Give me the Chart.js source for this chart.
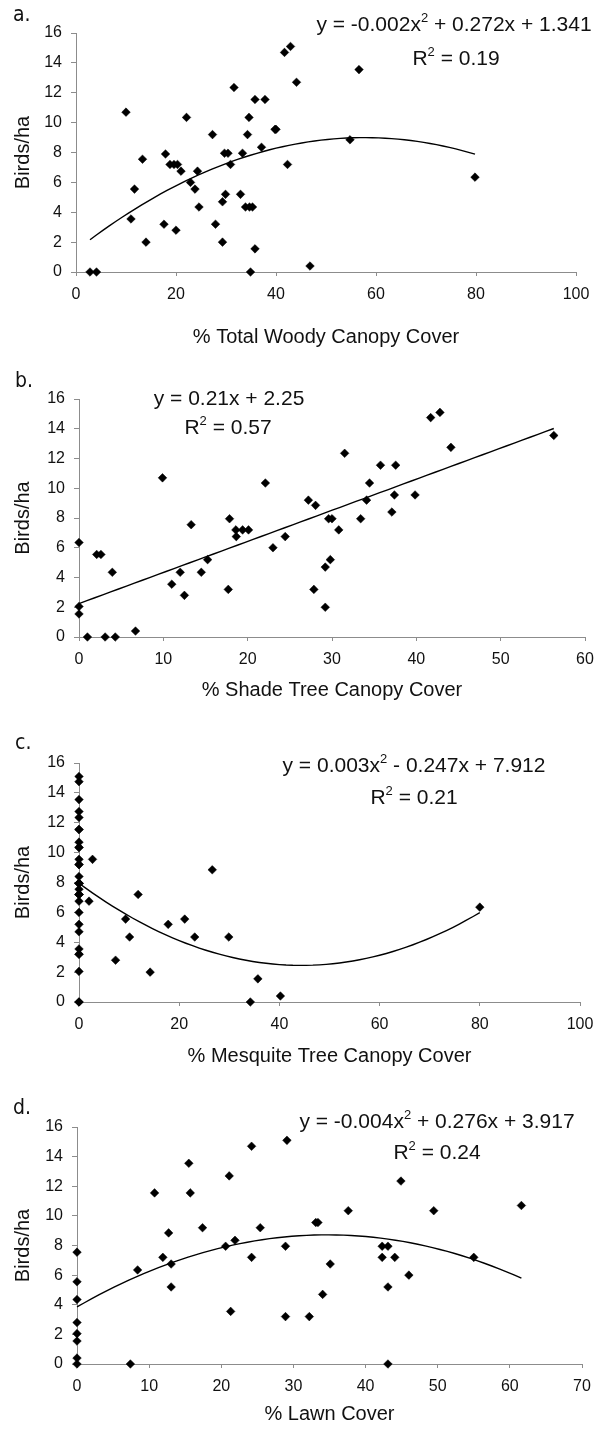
<!DOCTYPE html>
<html>
<head>
<meta charset="utf-8">
<script src="https://cdn.jsdelivr.net/npm/chart.js@4.4.1/dist/chart.umd.min.js"></script>
<style>
  body { margin: 0; background: #fff; width: 605px; height: 1434px; position: relative; overflow: hidden;
         font-family: 'Liberation Sans', Arial, sans-serif; }
  canvas { position: absolute; left: 0; }
  .lbl { position: absolute; font-family: 'Liberation Sans Narrow', 'DejaVu Sans Condensed', sans-serif;
         font-size: 21px; line-height: 21px; color: #111; }
  .eq { position: absolute; font-size: 21px; line-height: 21px; white-space: nowrap; color: #111;
        transform: translate(-50%, -50%); }
  .eq sup { font-size: 13px; vertical-align: 0; position: relative; top: -9px; }
</style>
</head>
<body>
<script>
// birds/ha per site against % cover, one pair of arrays per panel
const woodyX = [2.8, 4.1, 10, 11, 11.7, 13.3, 14, 17.6, 17.9, 18.8, 19.6, 20.3, 20, 21, 22.1, 22.9, 23.8, 24.3, 24.6,
  27.3, 27.9, 29.3, 29.3, 29.9, 29.7, 30.4, 30.9, 31.6, 32.9, 33.3, 34.3, 34.6, 33.9, 34.7, 35.3, 34.9, 35.8, 37.8,
  35.8, 37.1, 39.8, 40.0, 41.7, 42.9, 42.3, 44.1, 56.6, 54.8, 46.8, 79.8];
const woodyY = [0, 0, 10.7, 3.55, 5.55, 7.55, 2, 3.2, 7.9, 7.2, 7.2, 7.2, 2.8, 6.75, 10.35, 6, 5.55, 6.75, 4.35,
  9.2, 3.2, 4.7, 2, 5.2, 7.95, 7.95, 7.2, 12.35, 5.2, 7.95, 9.2, 10.35, 4.35, 4.35, 4.35, 0, 11.55, 11.55,
  1.55, 8.35, 9.55, 9.55, 14.7, 15.1, 7.2, 12.7, 13.55, 8.85, 0.4, 6.35];

const shadeX = [0, 0, 0, 1, 2.1, 2.6, 3.1, 3.95, 4.3, 6.7, 9.9, 11, 12, 12.5, 13.3, 14.5, 15.25, 17.7, 17.85, 18.65,
  18.6, 19.4, 20.1, 22.1, 23, 24.45, 27.2, 28.05, 27.85, 29.2, 29.2, 29.8, 29.6, 30, 30.8, 31.5, 33.4, 34.1, 34.45,
  35.75, 37.55, 37.1, 37.4, 39.85, 41.7, 42.8, 44.1, 56.3];
const shadeY = [6.35, 2.05, 1.55, 0, 5.55, 5.55, 0, 4.35, 0, 0.4, 10.7, 3.55, 4.35, 2.8, 7.55, 4.35, 5.2, 3.2, 7.95, 6.75,
  7.2, 7.2, 7.2, 10.35, 6, 6.75, 9.2, 8.85, 3.2, 4.7, 2, 5.2, 7.95, 7.95, 7.2, 12.35, 7.95, 9.2, 10.35,
  11.55, 11.55, 8.4, 9.55, 9.55, 14.75, 15.1, 12.75, 13.55];

const mesquiteX = [0, 0, 0, 0, 0, 0, 0, 0, 0, 0, 0, 0, 0, 0, 0, 0, 0, 0, 0, 0, 0, 0, 0, 0, 0, 0, 0, 0, 0, 0, 0, 0,
  2.7, 2.0, 7.3, 9.3, 10.1, 11.8, 14.2, 17.8, 21.1, 23.1, 26.6, 29.9, 35.7, 34.2, 40.2, 80];
const mesquiteY = [15.1, 14.75, 13.55, 12.75, 12.35, 11.55, 11.55, 10.7, 10.35, 10.35, 9.55, 9.2, 9.2, 8.4, 7.95, 7.95,
  7.95, 7.95, 7.55, 7.2, 7.2, 7.2, 6.75, 6, 5.2, 4.7, 3.55, 3.2, 3.2, 2.05, 0, 0,
  9.55, 6.75, 2.8, 5.55, 4.35, 7.2, 2, 5.2, 5.55, 4.35, 8.85, 4.35, 1.55, 0, 0.4, 6.35];

const lawnX = [0, 0, 0, 0, 0, 0, 0, 0, 7.4, 8.4, 10.75, 11.9, 12.7, 13.05, 13.05, 15.5, 15.7, 17.4, 20.6, 21.1, 21.3,
  21.9, 24.2, 24.2, 25.4, 29.1, 28.9, 28.9, 32.2, 33.1, 33.4, 34.05, 35.1, 37.6, 42.3, 43.1, 42.3, 44.05, 43.1, 43.1,
  44.9, 46, 49.45, 55, 61.6];
const lawnY = [7.55, 5.55, 4.35, 2.8, 2.05, 1.55, 0.4, 0, 0, 6.35, 11.55, 7.2, 8.85, 6.75, 5.2, 13.55, 11.55, 9.2, 7.95, 12.7, 3.55,
  8.35, 14.7, 7.2, 9.2, 15.1, 7.95, 3.2, 3.2, 9.55, 9.55, 4.7, 6.75, 10.35, 7.95, 7.95, 7.2, 7.2, 5.2, 0,
  12.35, 6, 10.35, 7.2, 10.7];

const seriesX = [woodyX, shadeX, mesquiteX, lawnX];
const seriesY = [woodyY, shadeY, mesquiteY, lawnY];

const panelLetters = ['a.', 'b.', 'c.', 'd.'];
const xTitles = ['% Total Woody Canopy Cover', '% Shade Tree Canopy Cover', '% Mesquite Tree Canopy Cover', '% Lawn Cover'];
const yTitle = 'Birds/ha';
const xMax = [100, 60, 100, 70];
const xStep = [20, 10, 20, 10];
const yMax = 16, yStep = 2;
const fitDegree = [2, 1, 2, 2];
const equations = ['y = -0.002x<sup>2</sup> + 0.272x + 1.341', 'y = 0.21x + 2.25',
  'y = 0.003x<sup>2</sup> - 0.247x + 7.912', 'y = -0.004x<sup>2</sup> + 0.276x + 3.917'];
const rSquared = ['0.19', '0.57', '0.21', '0.24'];

// page layout (pixels)
const panelTop = [0, 366, 730, 1094];
const panelHeight = [358, 358, 358, 340];
const plotTop = [33, 399, 763, 1127];
const plotBottom = [272, 637, 1002, 1364];
const plotLeft = [76, 79, 79, 77];
const plotRight = [576, 585, 580, 582];
const titleY = [337, 690, 1056, 1414];
const eqPos = [[454, 25, 456, 59], [229, 397, 228, 428], [414, 766, 414, 798], [437, 1122, 437, 1153]];
const letterPos = [[13, 4], [15, 370], [15, 732], [13, 1097]];

Chart.defaults.font.family = "'Liberation Sans', Arial, sans-serif";
const axisGrey = '#8c8c8c';

// least squares polynomial, returns [c0, c1, c2...]
function polyFit(xs, ys, deg) {
  const n = deg + 1;
  const A = [], b = [];
  for (let i = 0; i < n; i++) {
    A.push([]);
    for (let j = 0; j < n; j++) A[i].push(xs.reduce((s, x) => s + Math.pow(x, i + j), 0));
    b.push(xs.reduce((s, x, k) => s + Math.pow(x, i) * ys[k], 0));
  }
  for (let i = 0; i < n; i++) {
    for (let r = i + 1; r < n; r++) {
      const f = A[r][i] / A[i][i];
      for (let c = i; c < n; c++) A[r][c] -= f * A[i][c];
      b[r] -= f * b[i];
    }
  }
  const coef = new Array(n).fill(0);
  for (let i = n - 1; i >= 0; i--) {
    let s = b[i];
    for (let c = i + 1; c < n; c++) s -= A[i][c] * coef[c];
    coef[i] = s / A[i][i];
  }
  return coef;
}

function makePanel(i) {
  const xs = seriesX[i], ys = seriesY[i];
  const points = xs.map((x, k) => ({ x: x, y: ys[k] }));
  const coef = polyFit(xs, ys, fitDegree[i]);
  const lo = Math.min(...xs), hi = Math.max(...xs);
  const trend = [];
  for (let k = 0; k <= 60; k++) {
    const x = lo + (hi - lo) * k / 60;
    trend.push({ x: x, y: coef.reduce((s, c, p) => s + c * Math.pow(x, p), 0) });
  }

  const canvas = document.createElement('canvas');
  canvas.width = 605;
  canvas.height = panelHeight[i];
  canvas.style.top = panelTop[i] + 'px';
  document.body.appendChild(canvas);

  const xAxisH = panelHeight[i] - (plotBottom[i] - panelTop[i]);
  const xTitlePad = panelHeight[i] - (titleY[i] - panelTop[i]) - 12;

  new Chart(canvas, {
    type: 'scatter',
    data: {
      datasets: [{
        data: points,
        pointStyle: 'rectRot',
        pointRadius: 4.3,
        backgroundColor: '#000',
        borderColor: '#000',
        borderWidth: 0.5,
        clip: false
      }, {
        data: trend,
        showLine: true,
        pointRadius: 0,
        borderColor: '#000',
        borderWidth: 1.4,
        fill: false,
        clip: false
      }]
    },
    options: {
      responsive: false,
      animation: false,
      events: [],
      layout: { padding: { top: plotTop[i] - panelTop[i], right: 605 - plotRight[i], left: 0, bottom: 0 } },
      plugins: { legend: { display: false }, tooltip: { enabled: false } },
      scales: {
        x: {
          type: 'linear', min: 0, max: xMax[i],
          ticks: { stepSize: xStep[i], padding: 9, color: '#111', font: { size: 16 } },
          grid: { drawOnChartArea: false, tickLength: 4, color: axisGrey },
          border: { color: axisGrey },
          title: { display: true, text: xTitles[i], color: '#111', font: { size: 20 }, padding: { top: 0, bottom: xTitlePad } },
          afterFit: s => { s.height = xAxisH; }
        },
        y: {
          type: 'linear', min: 0, max: yMax,
          ticks: { stepSize: yStep, padding: 9, color: '#111', font: { size: 16 } },
          grid: { drawOnChartArea: false, tickLength: 5, color: axisGrey },
          border: { color: axisGrey },
          title: { display: true, text: yTitle, color: '#111', font: { size: 20 }, padding: { top: 11, bottom: 0 } },
          afterFit: s => { s.width = plotLeft[i]; }
        }
      }
    }
  });

  const lbl = document.createElement('div');
  lbl.className = 'lbl';
  lbl.textContent = panelLetters[i];
  lbl.style.left = letterPos[i][0] + 'px';
  lbl.style.top = letterPos[i][1] + 'px';
  document.body.appendChild(lbl);

  const eq = document.createElement('div');
  eq.className = 'eq';
  eq.innerHTML = equations[i];
  eq.style.left = eqPos[i][0] + 'px';
  eq.style.top = eqPos[i][1] + 'px';
  document.body.appendChild(eq);

  const r2 = document.createElement('div');
  r2.className = 'eq';
  r2.innerHTML = 'R<sup>2</sup> = ' + rSquared[i];
  r2.style.left = eqPos[i][2] + 'px';
  r2.style.top = eqPos[i][3] + 'px';
  document.body.appendChild(r2);
}

for (let i = 0; i < 4; i++) makePanel(i);
</script>
</body>
</html>
